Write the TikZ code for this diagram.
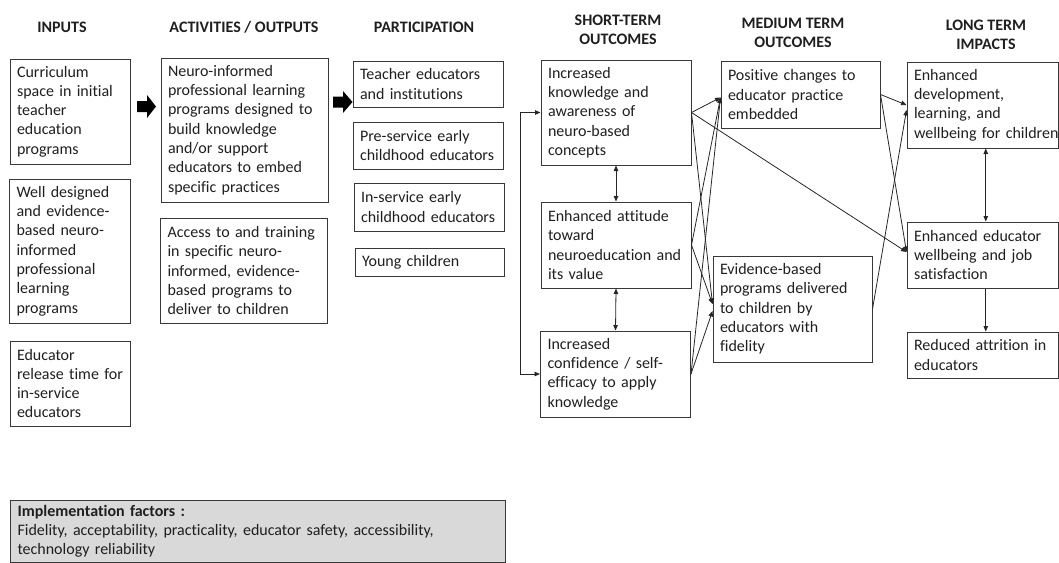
\documentclass[tikz,border=0pt]{standalone}
\usepackage{fontspec}
\setmainfont{Carlito}[Ligatures={NoCommon}]
\usetikzlibrary{arrows.meta}
\tikzset{
  box/.style={draw=black!78, line width=1pt, rectangle, align=left, inner xsep=7pt, inner ysep=1pt,
    text=black!88, font=\fontsize{16}{19.3}\selectfont},
  head/.style={align=center, text=black!88, font=\fontsize{16}{19.5}\selectfont\bfseries},
  arr/.style={draw=black!85, line width=0.8pt, -{Triangle[length=5.5pt,width=4.5pt]}},
  darr/.style={draw=black!85, line width=0.8pt, {Triangle[length=5.5pt,width=4.5pt]}-{Triangle[length=5.5pt,width=4.5pt]}},
  blockarrow/.style={fill=black}
}
\newcommand{\mybox}[6]{%
  \pgfmathsetmacro\bw{#4-#2}\pgfmathsetmacro\bh{#5-#3}\pgfmathsetmacro\btw{#4-#2-14}%
  \node[box, minimum width=\bw pt, minimum height=\bh pt, text width=\btw pt] (#1) at ({(#2+#4)/2},{(#3+#5)/2}) {#6};}
\begin{document}
\begin{tikzpicture}[x=1pt,y=-1pt]
\useasboundingbox (0,0) rectangle (1059,562);
% headers
\node[head] (hin) at (62,27) {INPUTS};
\node[head] (hac) at (244,27) {ACTIVITIES / OUTPUTS};
\node[head] (hpa) at (424,27) {PARTICIPATION};
\node[head] (hst) at (618,30) {SHORT-TERM\\OUTCOMES};
\node[head] (hmt) at (793,33) {MEDIUM TERM\\OUTCOMES};
\node[head] (hlt) at (986,35) {LONG TERM\\IMPACTS};
% inputs
\mybox{in1}{10}{59}{130}{164}{Curriculum\\space in initial\\teacher\\education\\programs}
\mybox{in2}{9.5}{179}{130}{323}{Well designed\\and evidence-\\based neuro-\\informed\\professional\\learning\\programs}
\mybox{in3}{10}{341}{130}{426}{Educator\\release time for\\in-service\\educators}
% activities
\mybox{ac1}{161}{58}{328}{202}{Neuro-informed\\professional learning\\programs designed to\\build knowledge\\and/or support\\educators to embed\\specific practices}
\mybox{ac2}{160.5}{218}{327.5}{323}{Access to and training\\in specific neuro-\\informed, evidence-\\based programs to\\deliver to children}
% participation
\mybox{pa1}{353}{61}{503}{107}{Teacher educators\\and institutions}
\mybox{pa2}{353}{122}{503}{169}{Pre-service early\\childhood educators}
\mybox{pa3}{354}{183}{504}{231}{In-service early\\childhood educators}
\mybox{pa4}{355}{248}{504}{276}{Young children}
% short term
\mybox{st1}{541}{60}{691}{165}{Increased\\knowledge and\\awareness of\\neuro-based\\concepts}
\mybox{st2}{541}{202}{691}{288}{Enhanced attitude\\toward\\neuroeducation and\\its value}
\mybox{st3}{540.5}{331}{690.5}{417}{Increased\\confidence / self-\\efficacy to apply\\knowledge}
% medium term
\mybox{mt1}{721}{61}{880}{128}{Positive changes to\\educator practice\\embedded}
\mybox{mt2}{713}{256}{872}{362}{Evidence-based\\programs delivered\\to children by\\educators with\\fidelity}
% long term
\mybox{lt1}{907}{62}{1058.5}{148}{Enhanced\\development,\\learning, and\\\mbox{wellbeing for children}}
\mybox{lt2}{907}{222}{1058.5}{288}{Enhanced educator\\wellbeing and job\\satisfaction}
\mybox{lt3}{907}{332}{1058.5}{378}{Reduced attrition in\\educators}
% implementation factors
\node[box, fill=black!15, anchor=north west, minimum width=495pt, minimum height=61.5pt, text width=481pt, inner ysep=4pt] (imp) at (10,500)
  {\textbf{Implementation factors :}\\Fidelity, acceptability, practicality, educator safety, accessibility,\\technology reliability};
% block arrows
\fill[blockarrow] (137,101) -- (147,101) -- (147,95) -- (156,106.5) -- (147,118) -- (147,112) -- (137,112) -- cycle;
\fill[blockarrow] (333,96.5) -- (343,96.5) -- (343,91) -- (352.5,102) -- (343,113) -- (343,107.5) -- (333,107.5) -- cycle;
% short term internal
\draw[darr] (st1.south) -- (st2.north);
\draw[darr] (st2.south) -- (st3.north);
\draw[darr] (st1.west) -- ++(-20,0) |- (st3.west);
% short to medium
\draw[arr] (st1.east) -- ([yshift=-3pt]mt1.west);
\draw[arr] (st2.east) -- ([yshift=-3pt]mt1.west);
\draw[arr] (st3.east) -- ([yshift=-3pt]mt1.west);
\draw[arr] (st1.east) -- ([yshift=5pt]mt2.west);
\draw[arr] (st2.east) -- ([yshift=5pt]mt2.west);
\draw[arr] (st3.east) -- ([yshift=-2pt]mt2.west);
\draw[arr] (st1.east) -- ([yshift=3pt]lt2.west);
% medium to long
\draw[arr] (mt1.east) -- (lt1.west);
\draw[arr] (mt1.east) -- ([yshift=3pt]lt2.west);
\draw[arr] (mt2.east) -- ([yshift=-5pt]lt1.west);
% long term internal
\draw[darr] ([xshift=3pt]lt1.south) -- ([xshift=3pt]lt2.north);
\draw[arr] ([xshift=3pt]lt2.south) -- ([xshift=3pt]lt3.north);
\end{tikzpicture}
\end{document}
